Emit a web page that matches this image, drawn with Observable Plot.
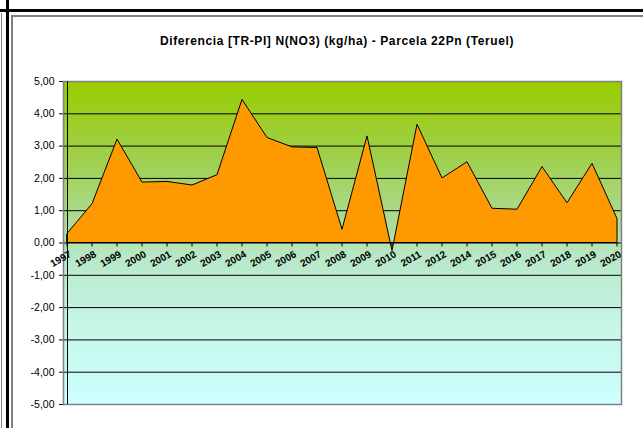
<!DOCTYPE html>
<html><head><meta charset="utf-8">
<script src="https://cdn.jsdelivr.net/npm/d3@7"></script>
<script src="https://cdn.jsdelivr.net/npm/@observablehq/plot@0.6"></script>
<style>
body{margin:0;background:#fff;}
#wrap{position:relative;width:643px;height:428px;overflow:hidden;font-family:"Liberation Sans",Arial,sans-serif;background:#fff;}
#wrap svg{position:absolute;left:0;top:0;}
.b{position:absolute;}
#title{position:absolute;left:37px;width:600px;top:34px;text-align:center;font-weight:bold;font-size:12px;letter-spacing:0.6px;line-height:14px;color:#000;}
</style></head><body>
<div id="wrap"></div>
<script>
const title = "Diferencia [TR-PI] N(NO3) (kg/ha) - Parcela 22Pn (Teruel)";
const years = ["1997","1998","1999","2000","2001","2002","2003","2004","2005","2006","2007","2008","2009","2010","2011","2012","2014","2015","2016","2017","2018","2019","2020"];
const values = [0.28,1.2,3.2,1.87,1.89,1.78,2.1,4.43,3.25,2.96,2.94,0.41,3.3,-0.25,3.66,2.0,2.5,1.06,1.03,2.35,1.23,2.45,0.74];
const yTicks = [-5,-4,-3,-2,-1,0,1,2,3,4,5];
const gridValues = [-4,-3,-2,-1,1,2,3,4];
const gradientStops = [
  [0, "#99CC00"], [0.25, "#A0D050"], [0.45, "#AEDC9A"], [0.55, "#B8E8C8"], [0.75, "#C6F6E6"], [1, "#CCFFFF"]
];
const data = years.map((year, i) => ({year, value: values[i]}));
const fmt = d => d.toFixed(2).replace(".", ",");

function background(index, scales, vals, dims) {
  const g = d3.create("svg:g");
  const grad = g.append("defs").append("linearGradient")
    .attr("id", "bg-grad").attr("x1", 0).attr("y1", 0).attr("x2", 0).attr("y2", 1);
  for (const [o, c] of gradientStops) grad.append("stop").attr("offset", o).attr("stop-color", c);
  g.append("rect")
    .attr("x", dims.marginLeft).attr("y", dims.marginTop)
    .attr("width", dims.width - dims.marginLeft - dims.marginRight)
    .attr("height", dims.height - dims.marginTop - dims.marginBottom)
    .attr("fill", "url(#bg-grad)");
  return g.node();
}

function xTicks(index, scales) {
  const g = d3.create("svg:g");
  const y0 = scales.y(0);
  for (const yr of years) {
    const x = scales.x(yr);
    g.append("line").attr("x1", x).attr("x2", x).attr("y1", y0).attr("y2", y0 + 4).attr("stroke", "black");
  }
  return g.node();
}

const chart = Plot.plot({
  width: 643,
  height: 428,
  marginLeft: 63,
  marginRight: 22,
  marginTop: 81,
  marginBottom: 24,
  style: {fontFamily: '"Liberation Sans", Arial, sans-serif', fontSize: "10.5px", color: "black", background: "transparent"},
  x: {type: "point", domain: years, padding: 0, axis: null},
  y: {domain: [-5, 5], ticks: yTicks, tickFormat: fmt, tickSize: 4, tickPadding: 5, label: null},
  marks: [
    background,
    Plot.ruleY(gridValues, {stroke: "black", strokeWidth: 1}),
    Plot.areaY(data, {x: "year", y: "value", fill: "#FF9900", stroke: "black", strokeWidth: 1}),
    Plot.ruleY([0], {stroke: "black"}),
    Plot.frame({stroke: "#808080", strokeWidth: 1.5}),
    Plot.ruleX([years[0]], {stroke: "black", strokeWidth: 1}),
    xTicks,
    Plot.text(years, {x: d => d, y: 0, text: d => d, textAnchor: "end", lineAnchor: "top", rotate: -30, dy: 7, dx: 1, fontWeight: "bold", fontSize: 10, fill: "black"})
  ]
});

const wrap = document.getElementById("wrap");
wrap.appendChild(chart);
const t = document.createElement("div");
t.id = "title"; t.textContent = title;
wrap.appendChild(t);
const borders = [
  {left: 0, top: 9, width: 643, height: 2.5, bg: "#000"},
  {left: 11, top: 15, width: 632, height: 1.5, bg: "#808080"},
  {left: 1, top: 13, width: 1, height: 415, bg: "#808080"},
  {left: 6, top: 0, width: 2.5, height: 428, bg: "#000"},
  {left: 11, top: 15, width: 1.5, height: 413, bg: "#808080"}
];
for (const b of borders) {
  const d = document.createElement("div");
  d.className = "b";
  Object.assign(d.style, {left: b.left + "px", top: b.top + "px", width: b.width + "px", height: b.height + "px", background: b.bg});
  wrap.appendChild(d);
}
</script>
</body></html>
